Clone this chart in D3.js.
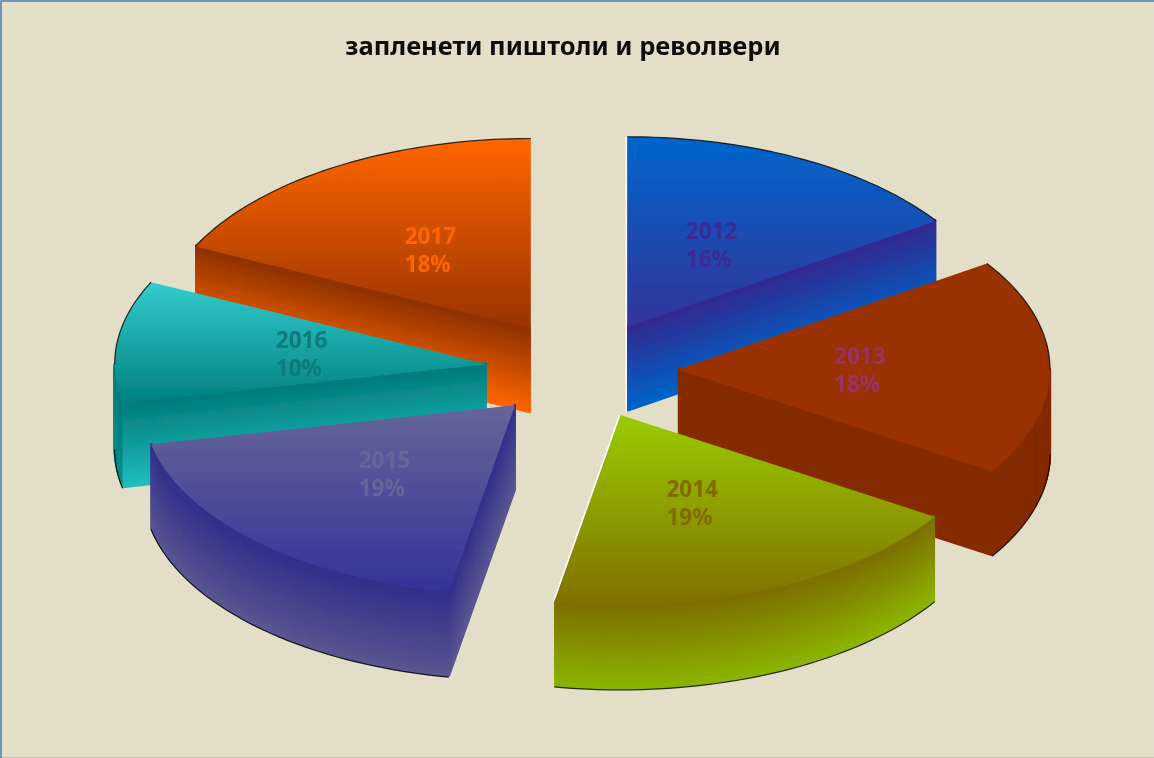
<!DOCTYPE html>
<html><head><meta charset="utf-8">
<script src="https://cdn.jsdelivr.net/npm/d3@7"></script>
<style>html,body{margin:0;padding:0;background:#e3dfca}svg{display:block}</style>
</head><body><svg id="c" width="1154" height="758"></svg>
<script>
const title = "запленети пиштоли и револвери";
const years = ["2012","2013","2014","2015","2016","2017"];
const shares = [15.6,18.4,18.85,18.85,10.4,17.9];
const topColors = ["#0066cc","#993300","#99cc00","#666699","#33cccc","#ff6600"];
const midColors = ["#333399","#993300","#807000","#333399","#008080","#993300"];
const wallTop = ["#34298f","#852b00","#7c6e00","#2f2f8c","#007a7a","#8a3000"];
const wallEnd = ["#0064c8","#852b00","#8cb400","#5a5690","#22bcbc","#ff6600"];
const rimEnd = ["#0064c8","#852b00","#8cb400","#5a5690","#0c8a8a","#ff6600"];
const labelColors = ["#3c2a92","#993366","#806a00","#666699","#0a7a7a","#ff6600"];
const litEdges = ["2012","2014"];

const W=1154,H=758, cx=582, cy=370, rx=372, ry=190, depth=85, explode=96;
const svg=d3.select("#c");
const defs=svg.append("defs");
const pat=defs.append("pattern").attr("id","bg").attr("width",2).attr("height",2).attr("patternUnits","userSpaceOnUse");
pat.append("rect").attr("width",2).attr("height",2).attr("fill","#e3dfca");
pat.append("rect").attr("width",1).attr("height",1).attr("fill","#e1ddc6");
pat.append("rect").attr("x",1).attr("y",1).attr("width",1).attr("height",1).attr("fill","#e1ddc6");
defs.append("filter").attr("id","soft").attr("x","-5%").attr("y","-20%").attr("width","110%").attr("height","140%")
  .append("feGaussianBlur").attr("stdDeviation",0.55);
svg.append("rect").attr("width",W).attr("height",H).attr("fill","url(#bg)");
svg.append("path").attr("d",`M0,${H-0.5}H${W}`).attr("fill","none").attr("stroke","#bdbdb5").attr("stroke-width",1);
svg.append("path").attr("d",`M1,${H}V1H${W}`).attr("fill","none").attr("stroke","#4a7ebb").attr("stroke-width",1.5);

svg.append("text").attr("x",563).attr("y",55).attr("text-anchor","middle")
  .attr("font-family","'Noto Sans',sans-serif").attr("font-weight","bold").attr("font-size",25.5)
  .attr("fill","#111").attr("filter","url(#soft)").text(title);

const arcs=d3.pie().sort(null).startAngle(0).endAngle(2*Math.PI).value(d=>d)(shares);
const px=(o,a,r=1)=>[o[0]+rx*r*Math.sin(a), o[1]-ry*r*Math.cos(a)];
const slices=arcs.map((a,i)=>{
  const mid=(a.startAngle+a.endAngle)/2;
  return {i,a0:a.startAngle,a1:a.endAngle,mid,o:px([cx,cy],mid,explode/rx)};
});
const line=d3.line();
const arcPts=(o,a0,a1)=>d3.range(0,41).map(k=>px(o,a0+(a1-a0)*k/40));
const shift=(pts,dy)=>pts.map(p=>[p[0],p[1]+dy]);
const layer=svg.append("g").attr("filter","url(#softAll)");
defs.append("filter").attr("id","softAll").attr("filterUnits","userSpaceOnUse").attr("x",0).attr("y",0).attr("width",W).attr("height",H)
  .append("feGaussianBlur").attr("stdDeviation",0.45);

slices.slice().sort((p,q)=>p.o[1]-q.o[1]).forEach(s=>{
  const g=layer.append("g");
  const sweep=(pts,endColor)=>{
    const color=d3.interpolateRgb(wallTop[s.i],endColor);
    const gw=g.append("g").attr("fill","none").attr("stroke-width",2.2);
    d3.range(0,depth+1).forEach(k=>{
      gw.append("path").attr("d",line(shift(pts,k-1))).attr("stroke",color(k/depth));
    });
  };
  const f0=Math.max(s.a0,Math.PI/2), f1=Math.min(s.a1,3*Math.PI/2);
  const front=f1>f0?arcPts(s.o,f0,f1):null;
  if(front) sweep(front,rimEnd[s.i]);
  const walls=[];
  if(Math.sin(s.a0)<-1e-6) walls.push([s.o,px(s.o,s.a0)]);
  if(Math.sin(s.a1)>1e-6) walls.push([s.o,px(s.o,s.a1)]);
  walls.forEach(w=>sweep(w,wallEnd[s.i]));

  const id="face"+s.i;
  const lg=defs.append("linearGradient").attr("id",id).attr("x1",0).attr("y1",0).attr("x2",0).attr("y2",1);
  lg.append("stop").attr("offset",0).attr("stop-color",topColors[s.i]);
  lg.append("stop").attr("offset",1).attr("stop-color",midColors[s.i]);
  const outer=arcPts(s.o,s.a0,s.a1);
  g.append("path").attr("d",line([s.o,...outer])+"Z").attr("fill",`url(#${id})`);

  const rim=g.append("g").attr("fill","none").attr("stroke","#000").attr("stroke-width",1.2).attr("stroke-opacity",0.8);
  if(s.a0<Math.PI/2) rim.append("path").attr("d",line(arcPts(s.o,s.a0,Math.min(s.a1,Math.PI/2))));
  if(s.a1>3*Math.PI/2) rim.append("path").attr("d",line(arcPts(s.o,Math.max(s.a0,3*Math.PI/2),s.a1)));
  if(front) rim.append("path").attr("d",line(shift(front,depth)));

  if(litEdges.includes(years[s.i])){
    const a=litEdges[0]===years[s.i]?s.a0:s.a1;
    const e=px(s.o,a);
    const pts=a===s.a0?[e,s.o,[s.o[0],s.o[1]+depth]]:[s.o,e];
    g.append("path").attr("d",line(pts.map(p=>[p[0]-1,p[1]]))).attr("fill","none").attr("stroke","#fff").attr("stroke-width",1.4);
  }
});

slices.forEach(s=>{
  const c=[s.o[0]+rx*0.495*Math.sin(s.mid)-2, s.o[1]-ry*0.495*Math.cos(s.mid)+1.5];
  const t=svg.append("text").attr("font-family","'Noto Sans',sans-serif").attr("font-weight","bold")
    .attr("font-size",22.5).attr("fill",labelColors[s.i]).attr("filter","url(#soft)");
  t.append("tspan").attr("x",c[0]-26).attr("y",c[1]-6).text(years[s.i]);
  t.append("tspan").attr("x",c[0]-26).attr("y",c[1]+22).text(Math.round(shares[s.i])+"%");
});
</script></body></html>
